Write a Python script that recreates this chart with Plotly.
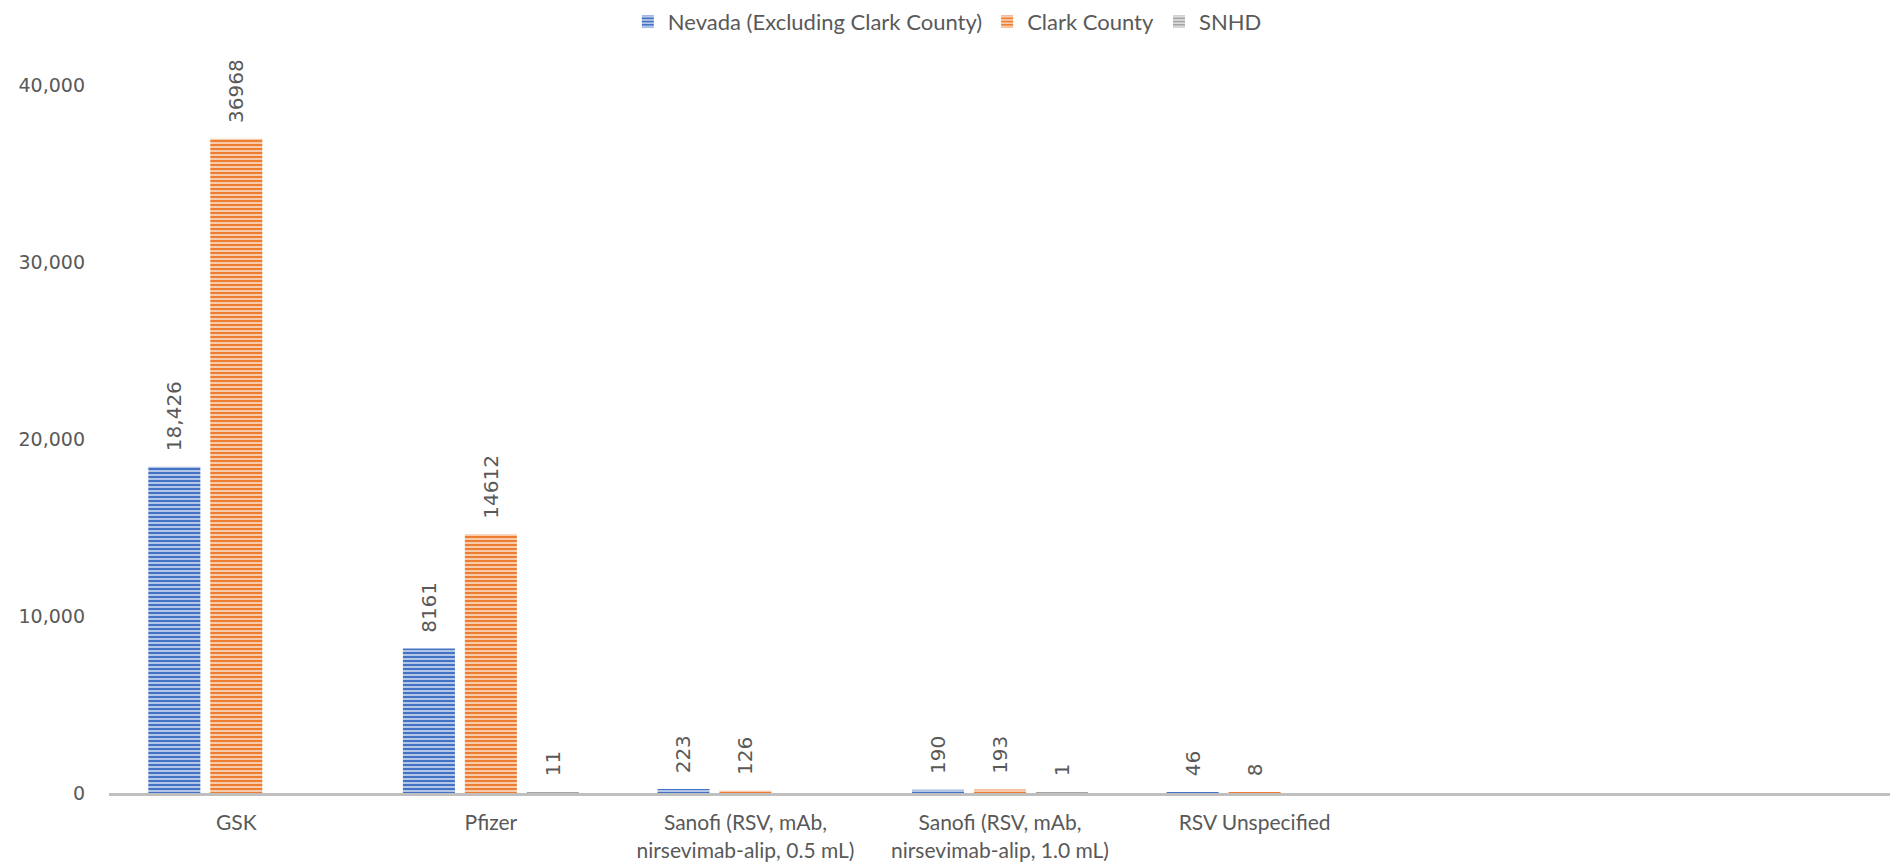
import plotly.graph_objects as go

categories = [
    "GSK",
    "Pfizer",
    "Sanofi (RSV, mAb,<br>nirsevimab-alip, 0.5 mL)",
    "Sanofi (RSV, mAb,<br>nirsevimab-alip, 1.0 mL)",
    "RSV Unspecified",
]
series_names = ["Nevada (Excluding Clark County)", "Clark County", "SNHD"]
nevada = [18426, 8161, 223, 190, 46]
clark = [36968, 14612, 126, 193, 8]
snhd = [None, 11, None, 1, None]
nevada_labels = ["18,426", "8161", "223", "190", "46"]
clark_labels = ["36968", "14612", "126", "193", "8"]
snhd_labels = ["", "11", "", "1", ""]
y_tickvals = [0, 10000, 20000, 30000, 40000]
y_ticktext = ["0", "10,000", "20,000", "30,000", "40,000"]

colors = ["#4472C4", "#ED7D31", "#A5A5A5"]
text_font = "Lato, 'Open Sans', sans-serif"
num_font = "'DejaVu Sans', Verdana, sans-serif"
grey_text = "#595959"
pad = "\u00a0\u00a0"

fig = go.Figure()
for name, vals, labels, col in zip(series_names, [nevada, clark, snhd],
                                   [nevada_labels, clark_labels, snhd_labels], colors):
    fig.add_trace(go.Bar(
        name=name, x=categories, y=vals,
        text=[(pad + t) if t else "" for t in labels],
        textposition="outside", textangle=-90, constraintext="none", cliponaxis=False,
        textfont=dict(family=num_font, size=20, color=grey_text),
        marker=dict(color=col, line=dict(width=0),
                    pattern=dict(shape="-", fgcolor="white", bgcolor=col,
                                 size=4, solidity=0.3, fillmode="replace")),
    ))

fig.update_layout(
    width=1890, height=860,
    margin=dict(l=101, r=7, t=77, b=75),
    paper_bgcolor="white", plot_bgcolor="white",
    barmode="group", bargap=0.27, bargroupgap=0.16,
    font=dict(family=text_font, color=grey_text, size=21),
    legend=dict(orientation="h", xref="container", x=0.497, xanchor="center",
                yref="container", y=0.984, yanchor="middle",
                font=dict(family=text_font, size=22, color=grey_text),
                itemwidth=30, tracegroupgap=0),
    showlegend=True,
)
fig.update_xaxes(
    type="category", range=[-0.5, 6.5],
    showline=True, linecolor="#BFBFBF", linewidth=3,
    showgrid=False, ticks="", tickfont=dict(family=text_font, size=21, color=grey_text),
    zeroline=False, ticklabelstandoff=9,
)
fig.update_yaxes(
    range=[0, 40000], tickvals=y_tickvals, ticktext=y_ticktext,
    showgrid=False, showline=False, zeroline=False, ticks="",
    tickfont=dict(family=num_font, size=19, color=grey_text), ticklabelstandoff=23,
)

fig.write_html("out.html")
